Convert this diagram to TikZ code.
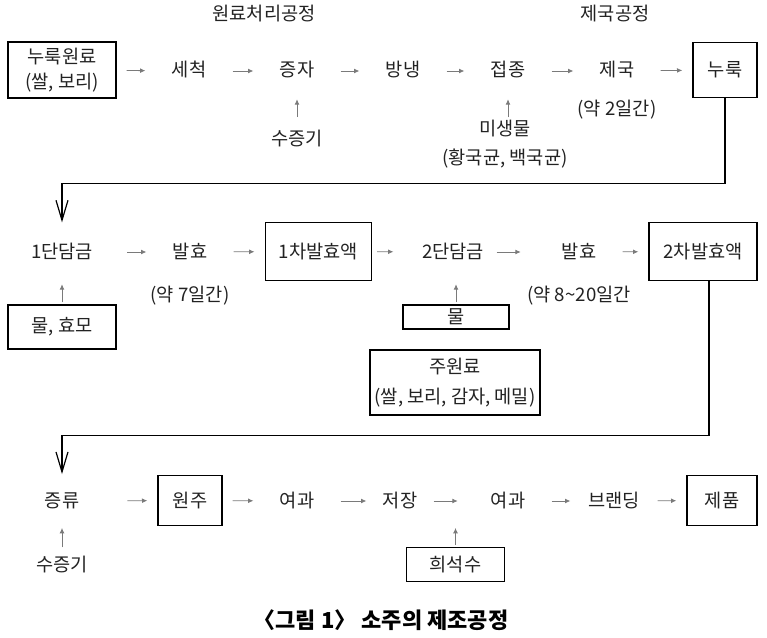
\documentclass[tikz,border=0pt]{standalone}
\usepackage{fontspec}
\usepackage{tikz}
\usetikzlibrary{arrows.meta, positioning, calc}
\newfontfamily\kr{Noto Sans CJK KR}
\definecolor{inkgray}{HTML}{222222}
\definecolor{arrowgray}{HTML}{7A7A7A}

\begin{document}
\begin{tikzpicture}[
    x=0.75pt, y=-0.75pt,
    every node/.style={text=inkgray},
    stepnode/.style={
        inner sep=0pt, text height=11.5pt, text depth=2.5pt,
        minimum width=65pt,
        font=\kr\fontsize{14}{17}\selectfont
    },
    note/.style={
        inner sep=0pt, text height=11.5pt, text depth=2.5pt,
        font=\kr\fontsize{14}{17}\selectfont
    },
    twoline/.style={
        inner sep=0pt, align=center,
        font=\kr\fontsize{14}{22}\selectfont
    },
    box/.style={
        draw=black, line width=0.8pt, rectangle,
        inner sep=0pt, outer xsep=8pt, outer ysep=0.4pt, align=center,
        font=\kr\fontsize{14}{19}\selectfont
    },
    arr/.style={
        -{Latex[length=4pt, width=3.6pt]}, line width=0.6pt, draw=arrowgray
    },
    feed/.style={arr, shorten <=1.5pt, shorten >=14pt},
    feedback/.style={
        -{Straight Barb[length=15pt, width=9pt]}, line width=0.9pt, draw=black
    },
]
\useasboundingbox (0,0) rectangle (767,638);

% row 1: nuruk
\node[note] (prephead) at (264,15) {원료처리공정};
\node[note] (kojihead) at (615,15) {제국공정};
\node[box, minimum width=81pt, minimum height=42pt] (rawmat) at (62,70) {누룩원료\\(쌀, 보리)};
\node[stepnode] (wash) at (189,71) {세척};
\node[stepnode] (steam) at (297,71) {증자};
\node[stepnode] (cool) at (403,71) {방냉};
\node[stepnode] (inoc) at (508,71) {접종};
\node[stepnode] (koji) at (617,71) {제국};
\node[box, minimum width=48pt, minimum height=41pt] (nuruk) at (725,70) {누룩};
\node[note] (vapor1) at (297,140) {수증기};
\node[twoline, anchor=north] (microbe) at (505,119.5) {미생물\\(황국균, 백국균)};
\node[note] (days2) at (617,110) {(약 2일간)};

% row 2: mashing
\node[stepnode, minimum width=97.5pt] (mash1) at (62,252) {1단담금};
\node[stepnode] (ferm1) at (190,252) {발효};
\node[box, minimum width=80pt, minimum height=43pt] (brew1) at (318.5,251.5) {1차발효액};
\node[stepnode] (mash2) at (453,252) {2단담금};
\node[stepnode] (ferm2) at (579,252) {발효};
\node[box, minimum width=81pt, minimum height=43pt] (brew2) at (703,251.5) {2차발효액};
\node[note] (days7) at (190,295) {(약 7일간)};
\node[note] (days20) at (579,295) {(약 8\textasciitilde20일간};
\node[box, minimum width=81pt, minimum height=33pt] (wateryeast) at (62,327) {물, 효모};
\node[box, minimum width=79.5pt, minimum height=18pt] (water) at (456,317) {물};
\node[box, twoline, minimum width=127.5pt, minimum height=48.75pt] (grain) at (455,382.5) {주원료\\(쌀, 보리, 감자, 메밀)};

% row 3: distilling
\node[stepnode, minimum width=97.5pt] (distil) at (62,501) {증류};
\node[box, minimum width=48pt, minimum height=38pt] (rawsoju) at (190,500.5) {원주};
\node[stepnode] (filt1) at (297,501) {여과};
\node[stepnode, minimum width=50pt] (store) at (400,501) {저장};
\node[stepnode] (filt2) at (508,501) {여과};
\node[stepnode] (blend) at (614,501) {브랜딩};
\node[box, minimum width=52.5pt, minimum height=38pt] (product) at (722,500.5) {제품};
\node[note] (vapor2) at (62,565) {수증기};
\node[box, minimum width=73pt, minimum height=26pt] (dilute) at (455.5,564.5) {희석수};

\node[font=\kr\bfseries\fontsize{16.5}{20}\selectfont, text=black] (caption) at (381,620) {〈그림 1〉 소주의 제조공정};

% flow arrows
\draw[arr] (rawmat) -- (wash);
\draw[arr] (wash) -- (steam);
\draw[arr] (steam) -- (cool);
\draw[arr] (cool) -- (inoc);
\draw[arr] (inoc) -- (koji);
\draw[arr] (koji) -- (nuruk);
\draw[arr] (mash1) -- (ferm1);
\draw[arr] (ferm1) -- (brew1);
\draw[arr, shorten <=-4pt, shorten >=12pt] (brew1) -- (mash2);
\draw[arr, shorten >=11pt] (mash2) -- (ferm2);
\draw[arr] (ferm2) -- (brew2);
\draw[arr] (distil) -- (rawsoju);
\draw[arr] (rawsoju) -- (filt1);
\draw[arr] (filt1) -- (store);
\draw[arr, shorten >=5pt] (store) -- (filt2);
\draw[arr] (filt2) -- (blend);
\draw[arr] (blend) -- (product);

% inputs
\draw[feed, shorten <=10pt] (vapor1) -- (steam);
\draw[feed] (inoc.south |- microbe.north) -- (inoc.south);
\draw[feed, shorten >=17pt] (wateryeast) -- (mash1);
\draw[feed, shorten >=17pt] (water.north) -- (water.north |- mash2.south);
\draw[feed, shorten <=6pt, shorten >=13pt] (vapor2) -- (distil);
\draw[feed, shorten >=13pt] (dilute.north) -- (dilute.north |- filt2.south);

% carry-over lines
\draw[feedback, shorten >=15pt] (nuruk.south) -- ++(0,86) -| (mash1.north);
\draw[feedback, shorten >=13pt] ([xshift=4.5pt]brew2.south) -- ++(0,155) -| (distil.north);
\end{tikzpicture}
\end{document}
